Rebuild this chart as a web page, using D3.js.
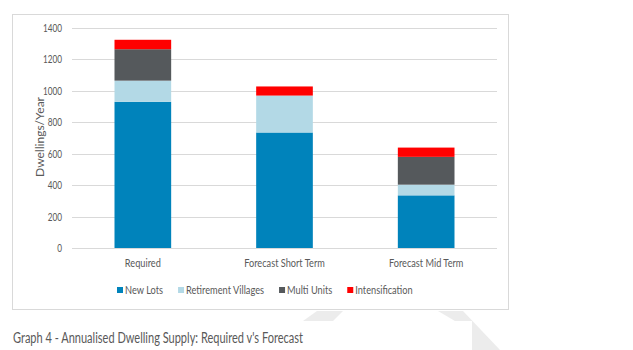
<!DOCTYPE html>
<html>
<head>
<meta charset="utf-8">
<script src="https://cdn.jsdelivr.net/npm/d3@7"></script>
<style>
  body{ margin: 0; background: #ffffff; }
  svg text{ font-family: Lato, 'Open Sans', sans-serif; fill: #595959; }
</style>
</head>
<body>
<div id="graph4"><div class="plot"></div></div>
<script>
// Data.
var categories = [ 'Required', 'Forecast Short Term', 'Forecast Mid Term' ];
var series_names = [ 'New Lots', 'Retirement Villages', 'Multi Units', 'Intensification' ];
var new_lots = [ 930, 735, 335 ];
var retirement_villages = [ 135, 235, 68 ];
var multi_units = [ 200, 0, 177 ];
var intensification = [ 60, 58, 59 ];
var y_ticks = [ 0, 200, 400, 600, 800, 1000, 1200, 1400 ];
var bar_colors = [ '#0083bb', '#b3d9e6', '#55595c', '#ff0000' ];
var caption = "Graph 4 - Annualised Dwelling Supply: Required v's Forecast";

var figure_width = 633;
var figure_height = 350;
var plot_margin = { left: 72, right: 136, top: 28, bottom: 102 };
var plot_width = figure_width - plot_margin.left - plot_margin.right;
var plot_height = figure_height - plot_margin.top - plot_margin.bottom;

// The reference text is tall and narrow (Calibri, squeezed), so set the
// font size for the height and then squeeze every label of a group by the
// ratio that makes the sample label take the measured width.
function squeeze_text( group_sel, sample_sel, size, target_width ){
  group_sel.attr( 'font-size', size + 'px' );
  var ratio = target_width / sample_sel.node().getComputedTextLength();
  group_sel.each( function(){
    var w = this.getComputedTextLength();
    d3.select( this )
      .attr( 'textLength', w * ratio )
      .attr( 'lengthAdjust', 'spacingAndGlyphs' );
  } );
}

// Build rows for the stack.
var rows = categories.map( function( c, i ){
  return { category: c, 'New Lots': new_lots[i], 'Retirement Villages': retirement_villages[i],
    'Multi Units': multi_units[i], 'Intensification': intensification[i] };
} );
var stacked = d3.stack().keys( series_names )( rows );

var svg = d3.select( 'div#graph4 .plot' )
  .append( 'svg' )
    .attr( 'width', figure_width )
    .attr( 'height', figure_height );

// Faint watermark shapes behind the chart frame.
svg.append( 'g' )
  .selectAll( 'polygon' )
  .data( [ '317,311 343,311 333,321 303,321', '438,311 463,311 500,350 472,350 472,321 455,321' ] )
  .enter().append( 'polygon' )
    .attr( 'points', function( d ){ return d } )
    .attr( 'fill', '#ececec' );

// Chart frame.
svg.append( 'rect' )
  .attr( 'x', 12.5 ).attr( 'y', 14.5 )
  .attr( 'width', 496 ).attr( 'height', 295 )
  .attr( 'fill', '#ffffff' )
  .attr( 'stroke', '#d9d9d9' );

var g = svg.append( 'g' )
  .attr( 'transform', 'translate(' + plot_margin.left + ',' + plot_margin.top + ')' );

var x_scale = d3.scaleBand()
  .domain( categories )
  .range( [ 0, plot_width ] )
  .paddingInner( 0.6 )
  .paddingOuter( 0.3 );

var y_scale = d3.scaleLinear()
  .domain( [ 0, 1400 ] )
  .range( [ plot_height, 0 ] );

// Gridlines.
g.append( 'g' )
  .selectAll( 'line' )
  .data( y_ticks )
  .enter().append( 'line' )
    .attr( 'x1', 0 ).attr( 'x2', plot_width )
    .attr( 'y1', function( d ){ return Math.round( y_scale( d ) ) + 0.5 } )
    .attr( 'y2', function( d ){ return Math.round( y_scale( d ) ) + 0.5 } )
    .attr( 'stroke', '#d9d9d9' )
    .attr( 'stroke-width', 1 );

// Y axis labels (no axis line in the reference).
var y_axis = g.append( 'g' )
  .call( d3.axisLeft( y_scale ).tickValues( y_ticks ).tickFormat( d3.format( 'd' ) ).tickSize( 0 ).tickPadding( 10 ) );
y_axis.select( '.domain' ).remove();
y_axis.attr( 'font-family', null );
y_axis.selectAll( 'text' ).attr( 'fill', null );
squeeze_text( y_axis.selectAll( 'text' ),
  y_axis.selectAll( 'text' ).filter( function( d ){ return d == 1400 } ), 11, 19 );

// Bars.
g.append( 'g' )
  .selectAll( 'g' )
  .data( stacked )
  .enter().append( 'g' )
    .attr( 'fill', function( d, i ){ return bar_colors[i] } )
  .selectAll( 'rect' )
  .data( function( d ){ return d } )
  .enter().append( 'rect' )
    .attr( 'x', function( d ){ return x_scale( d.data.category ) } )
    .attr( 'y', function( d ){ return y_scale( d[1] ) } )
    .attr( 'width', x_scale.bandwidth() )
    .attr( 'height', function( d ){ return y_scale( d[0] ) - y_scale( d[1] ) } );

// Category labels.
var cat_labels = g.append( 'g' )
  .selectAll( 'text' )
  .data( categories )
  .enter().append( 'text' )
    .attr( 'x', function( d ){ return x_scale( d ) + x_scale.bandwidth() / 2 } )
    .attr( 'y', plot_height + 19 )
    .attr( 'text-anchor', 'middle' )
    .text( function( d ){ return d } );
squeeze_text( cat_labels, cat_labels.filter( function( d ){ return d == 'Forecast Short Term' } ), 11, 80.6 );

// Y axis title.
var y_title = svg.append( 'g' )
  .attr( 'transform', 'translate(44, 137)' )
  .append( 'text' )
    .attr( 'text-anchor', 'middle' )
    .attr( 'transform', 'rotate(-90)' )
    .text( 'Dwellings/Year' );
squeeze_text( y_title, y_title, 11, 80 );

// Legend, laid out left to right by the squeezed text widths.
var legend = svg.append( 'g' ).attr( 'transform', 'translate(0, 294)' );
var key_size = 6;
var legend_texts = legend.selectAll( 'text' )
  .data( series_names )
  .enter().append( 'text' )
    .text( function( d ){ return d } );
squeeze_text( legend_texts, legend_texts.filter( function( d ){ return d == 'Retirement Villages' } ), 11.5, 78 );
var legend_x = 117;
legend_texts.each( function( d, i ){
  legend.append( 'rect' )
    .attr( 'x', legend_x ).attr( 'y', -7 )
    .attr( 'width', key_size ).attr( 'height', key_size )
    .attr( 'fill', bar_colors[i] );
  d3.select( this ).attr( 'x', legend_x + key_size + 2 );
  legend_x += key_size + 2 + +d3.select( this ).attr( 'textLength' ) + 15;
} );

// Caption under the frame.
var cap = svg.append( 'text' )
  .attr( 'x', 13 ).attr( 'y', 342.5 )
  .text( caption );
squeeze_text( cap, cap, 14.5, 290 );
</script>
</body>
</html>
